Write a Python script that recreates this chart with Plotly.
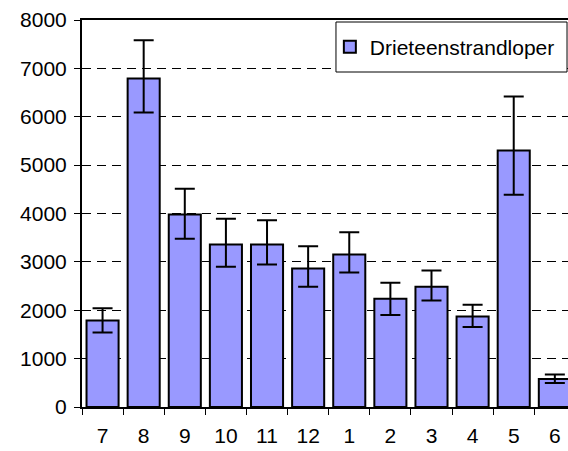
import plotly.graph_objects as go

months = ["7", "8", "9", "10", "11", "12", "1", "2", "3", "4", "5", "6"]
values = [1790, 6790, 3980, 3360, 3360, 2865, 3150, 2240, 2485, 1870, 5300, 580]
err_plus = [250, 790, 530, 530, 500, 460, 460, 330, 335, 245, 1120, 90]
err_minus = [250, 700, 500, 460, 415, 380, 370, 340, 285, 215, 910, 85]
series_name = "Drieteenstrandloper"
y_ticks = [0, 1000, 2000, 3000, 4000, 5000, 6000, 7000, 8000]

fig = go.Figure()
fig.add_trace(go.Bar(
    x=months, y=values, name=series_name,
    marker=dict(color="#9999FF", line=dict(color="black", width=2)),
    width=0.78,
    error_y=dict(type="data", symmetric=False, array=err_plus, arrayminus=err_minus,
                 color="black", thickness=2, width=10),
    showlegend=True,
))

# legend frame (white box with black border)
fig.add_shape(type="rect", xref="paper", yref="paper",
              x0=0.5226, x1=0.998, y0=0.8656, y1=0.9948,
              fillcolor="white", line=dict(color="black", width=1), layer="above")

fig.update_layout(
    width=568, height=451,
    margin=dict(l=82, r=0, t=20, b=44, autoexpand=False),
    paper_bgcolor="white", plot_bgcolor="white",
    font=dict(family="Liberation Sans, Arial, sans-serif", size=21, color="black"),
    bargap=0.22,
    showlegend=True,
    legend=dict(x=0.510, y=0.930, xanchor="left", yanchor="middle",
                bgcolor="rgba(0,0,0,0)", borderwidth=0,
                font=dict(size=21), itemsizing="constant", itemwidth=30),
    xaxis=dict(type="category", range=[-0.5, 11.32], showline=True, linecolor="black",
               linewidth=2, mirror=True, ticks="outside", ticklen=6, tickwidth=1,
               tickcolor="black", tickson="boundaries", showgrid=False,
               ticklabelstandoff=9, automargin=False),
    yaxis=dict(range=[0, 8000], tickvals=y_ticks, showline=True, linecolor="black",
               linewidth=2, ticks="outside", ticklen=6, tickwidth=1, tickcolor="black",
               showgrid=True, gridcolor="black", gridwidth=1, griddash="9px,6px",
               zeroline=False, ticklabelstandoff=3, automargin=False),
)

fig.write_html("out.html", config={"displayModeBar": False},
               post_script="document.body.style.margin='0';document.body.style.overflow='hidden';")
